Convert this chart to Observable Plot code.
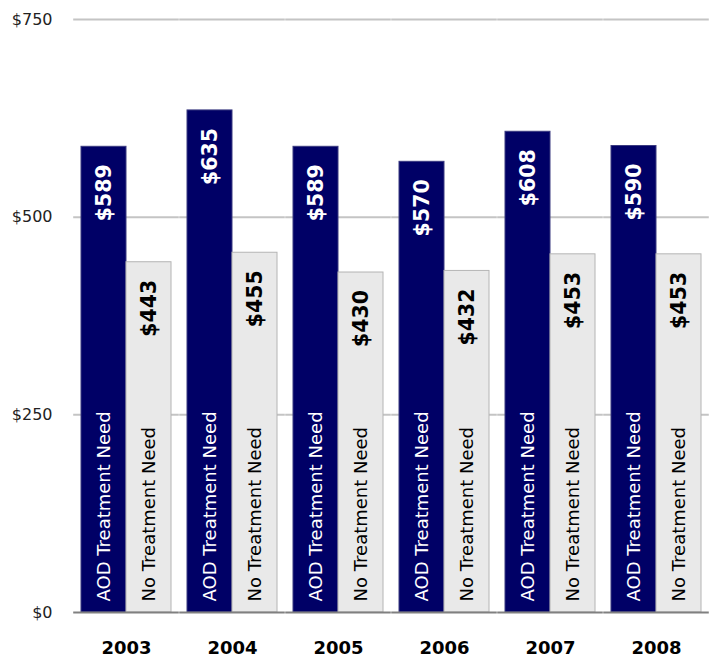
<!DOCTYPE html>
<html><head><meta charset="utf-8">
<script src="https://cdn.jsdelivr.net/npm/d3@7"></script>
<script src="https://cdn.jsdelivr.net/npm/@observablehq/plot@0.6"></script>
<style>body{margin:0;background:#fff}</style>
</head><body><div id="chart"></div>
<script>
const years = ["2003","2004","2005","2006","2007","2008"];
const groups = ["AOD Treatment Need","No Treatment Need"];
const aodValues = [589,635,589,570,608,590];
const noNeedValues = [443,455,430,432,453,453];
const yTicks = [0,250,500,750];
const gridTicks = [250,500,750];

const rows = years.flatMap((year,i)=>[
  {year, group:groups[0], value:aodValues[i]},
  {year, group:groups[1], value:noNeedValues[i]}
]);

const styles = {
  [groups[0]]: {fill:"#000066", stroke:"#3a3a80", text:"#ffffff"},
  [groups[1]]: {fill:"#e9e9e9", stroke:"#b4b4b4", text:"#000000"}
};

const groupMarks = groups.flatMap(g => {
  const sub = rows.filter(d => d.group === g);
  const s = styles[g];
  return [
    Plot.barY(sub, {fx:"year", x:"group", y:"value", fill:s.fill, stroke:s.stroke, strokeWidth:1}),
    Plot.text(sub, {fx:"year", x:"group", y:"value", text:d => "$" + d.value, rotate:-90, textAnchor:"end", dy:17.5,
      fill:s.text, fontFamily:"DejaVu Sans", fontWeight:"bold", fontSize:20.5}),
    Plot.text(sub, {fx:"year", x:"group", y:0, text:"group", rotate:-90, textAnchor:"start", dy:-11,
      fill:s.text, fontFamily:"DejaVu Sans", fontSize:18})
  ];
});

// rules extend half a gap on each side of every facet so they join up
const halfGap = -7.8;

const chart = Plot.plot({
  width:710, height:658,
  marginLeft:73, marginRight:0, marginTop:19, marginBottom:46,
  style:{fontFamily:"DejaVu Sans", background:"#fff"},
  fx:{domain:years, paddingInner:0.147, paddingOuter:0.0685, label:null},
  x:{domain:groups, padding:0, axis:null},
  y:{domain:[0,750], label:null},
  marks:[
    Plot.ruleY(gridTicks, {stroke:"#c4c4c4", strokeWidth:2, insetLeft:halfGap, insetRight:halfGap}),
    ...groupMarks,
    Plot.ruleY([0], {stroke:"#808080", strokeWidth:2, insetLeft:halfGap, insetRight:halfGap}),
    Plot.axisY({ticks:yTicks, tickSize:0, tickPadding:29, tickFormat:d => "$" + d, fontSize:16, fill:"#222", label:null}),
    Plot.axisFx({anchor:"bottom", tickSize:0, tickPadding:29, fontSize:18, fontWeight:"bold", fill:"#000", label:null})
  ]
});
document.getElementById("chart").append(chart);
</script>
</body></html>
